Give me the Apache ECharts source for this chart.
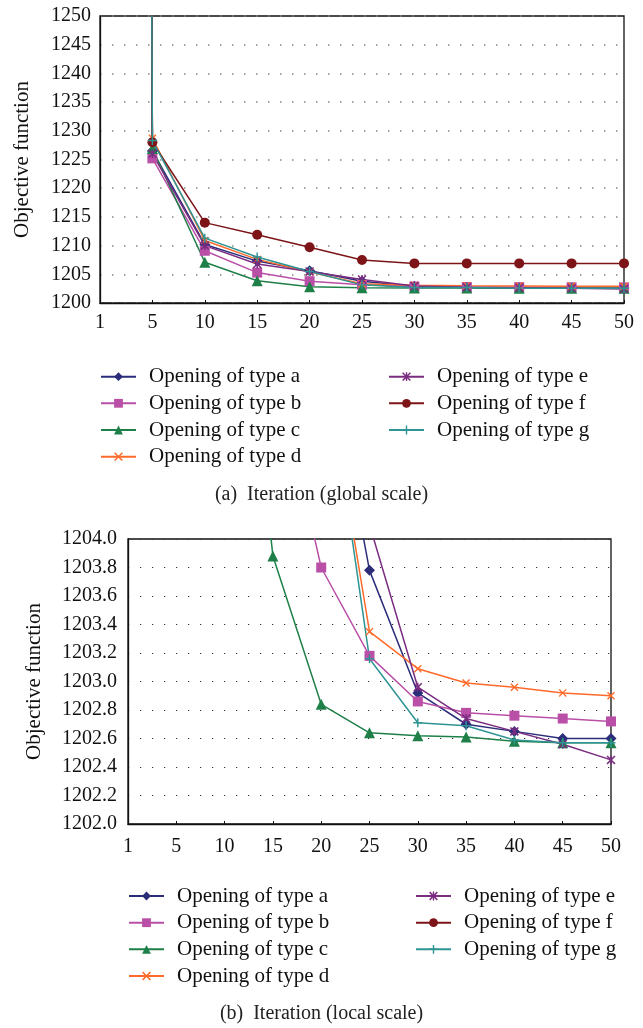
<!DOCTYPE html>
<html>
<head>
<meta charset="utf-8">
<script src="https://cdn.jsdelivr.net/npm/echarts@6/dist/echarts.min.js"></script>
<style>
html,body{margin:0;padding:0;background:#fff;}
#c{width:643px;height:1028px;}
</style>
</head>
<body>
<div id="c"></div>
<script>
// Iterations (category axis)
const iterations = ['1','5','10','15','20','25','30','35','40','45','50'];
// Objective function values per opening type (value at iteration 1 is far off-scale)
const typeA = [3400, 1226.5, 1210.2, 1207.3, 1205.6, 1203.78, 1202.92, 1202.70, 1202.65, 1202.60, 1202.60];
const typeB = [3300, 1225.2, 1209.1, 1205.3, 1203.80, 1203.18, 1202.86, 1202.78, 1202.76, 1202.74, 1202.72];
const typeC = [3200, 1226.9, 1207.1, 1203.88, 1202.84, 1202.64, 1202.62, 1202.61, 1202.58, 1202.57, 1202.57];
const typeD = [3500, 1228.7, 1210.9, 1207.6, 1205.4, 1203.35, 1203.09, 1202.99, 1202.96, 1202.92, 1202.90];
const typeE = [3300, 1226.0, 1210.0, 1206.8, 1205.5, 1204.1, 1202.96, 1202.74, 1202.65, 1202.56, 1202.45];
const typeF = [3600, 1228.0, 1214.0, 1211.9, 1209.7, 1207.5, 1206.9, 1206.9, 1206.9, 1206.9, 1206.9];
const typeG = [3400, 1228.3, 1211.3, 1208.0, 1205.5, 1203.16, 1202.71, 1202.69, 1202.59, 1202.57, 1202.57];
const seriesNames = ['Opening of type a','Opening of type b','Opening of type c','Opening of type d','Opening of type e','Opening of type f','Opening of type g'];
const seriesData = [typeA, typeB, typeC, typeD, typeE, typeF, typeG];
const captionA = '(a)  Iteration (global scale)';
const captionB = '(b)  Iteration (local scale)';
const yTitle = 'Objective function';

const colors = ['#2b2d7a','#b94fa6','#1e8048','#ff6a2a','#7a2c80','#7d1418','#2f9494'];
const X_PATH = 'path://M0,1.2 L1.2,0 L5,3.8 L8.8,0 L10,1.2 L6.2,5 L10,8.8 L8.8,10 L5,6.2 L1.2,10 L0,8.8 L3.8,5 Z';
const STAR_PATH = 'path://M0,1.2 L1.2,0 L4.2,3 L4.2,0 L5.8,0 L5.8,3 L8.8,0 L10,1.2 L6.2,5 L10,8.8 L8.8,10 L5.8,7 L5.8,10 L4.2,10 L4.2,7 L1.2,10 L0,8.8 L3.8,5 Z';
const PLUS_PATH = 'path://M4.2,0 H5.8 V4.2 H10 V5.8 H5.8 V10 H4.2 V5.8 H0 V4.2 H4.2 Z';
const symbols = ['diamond','rect','triangle',X_PATH,STAR_PATH,'circle',PLUS_PATH];
const symSizes = [11,10,11,8,9,10,9];

const FONT = 'Liberation Serif';

const series = [];
for (let g = 0; g < 2; g++) {
  for (let i = 0; i < 7; i++) {
    series.push({
      name: seriesNames[i],
      type: 'line',
      xAxisIndex: g, yAxisIndex: g,
      data: seriesData[i],
      symbol: symbols[i],
      symbolSize: symSizes[i],
      showSymbol: true,
      clip: true,
      silent: true,
      animation: false,
      lineStyle: {color: colors[i], width: 1.5},
      itemStyle: {color: colors[i], borderWidth: 0}
    });
  }
}

const legends = [];
const legendLayouts = [
  {leftX: [100, 388], rowY: [376.7, 403.3, 430, 456.7]},
  {leftX: [128, 415], rowY: [896, 922.7, 949.3, 976]}
];
legendLayouts.forEach(L => {
  for (let i = 0; i < 7; i++) {
    const col = i < 4 ? 0 : 1;
    const row = i < 4 ? i : i - 4;
    legends.push({
      data: [seriesNames[i]],
      left: L.leftX[col],
      top: L.rowY[row] - 12,
      padding: 0,
      itemWidth: 35,
      itemHeight: 11,
      selectedMode: false,
      textStyle: {fontFamily: FONT, fontSize: 21, color: '#111', lineHeight: 24, padding: [0,0,0,8]}
    });
  }
});

const chart = echarts.init(document.getElementById('c'), null, {renderer: 'canvas'});
chart.setOption({
  animation: false,
  grid: [
    {left: 100, top: 16, width: 524, height: 287, show: true, borderColor: '#111', borderWidth: 1.3, containLabel: false},
    {left: 128, top: 539, width: 483, height: 285, show: true, borderColor: '#111', borderWidth: 1.3, containLabel: false}
  ],
  xAxis: [
    {gridIndex: 0, type: 'category', data: iterations, boundaryGap: false,
     axisLine: {lineStyle: {color: '#111', width: 1.3}},
     axisTick: {show: true, inside: true, length: 3, lineStyle: {color: '#111'}},
     axisLabel: {fontFamily: FONT, fontSize: 20, color: '#111', margin: 10, interval: 0},
     splitLine: {show: false}},
    {gridIndex: 1, type: 'category', data: iterations, boundaryGap: false,
     axisLine: {lineStyle: {color: '#111', width: 1.3}},
     axisTick: {show: true, inside: true, length: 3, lineStyle: {color: '#111'}},
     axisLabel: {fontFamily: FONT, fontSize: 20, color: '#111', margin: 13, interval: 0},
     splitLine: {show: false}}
  ],
  yAxis: [
    {gridIndex: 0, type: 'value', min: 1200, max: 1250, interval: 5,
     name: yTitle, nameLocation: 'middle', nameGap: 67,
     nameTextStyle: {fontFamily: FONT, fontSize: 21, color: '#111'},
     axisLine: {show: true, lineStyle: {color: '#111', width: 1.3}},
     axisTick: {show: false},
     axisLabel: {fontFamily: FONT, fontSize: 20, color: '#111', margin: 9, formatter: v => String(v)},
     splitLine: {show: true, lineStyle: {color: '#888', width: 1.5, type: [1.5, 10.5]}}},
    {gridIndex: 1, type: 'value', min: 1202, max: 1204, interval: 0.2,
     name: yTitle, nameLocation: 'middle', nameGap: 83,
     nameTextStyle: {fontFamily: FONT, fontSize: 21, color: '#111'},
     axisLine: {show: true, lineStyle: {color: '#111', width: 1.3}},
     axisTick: {show: false},
     axisLabel: {fontFamily: FONT, fontSize: 20, color: '#111', margin: 11, formatter: v => v.toFixed(1)},
     splitLine: {show: true, lineStyle: {color: '#333', width: 1.2, type: [1.2, 10.8]}}}
  ],
  legend: legends,
  graphic: [
    {type: 'text', left: 'center', top: 485, style: {text: captionA, font: '20px "' + FONT + '"', fill: '#222'}},
    {type: 'text', left: 'center', top: 1004, style: {text: captionB, font: '20px "' + FONT + '"', fill: '#222'}}
  ],
  series: series
});
</script>
</body>
</html>
